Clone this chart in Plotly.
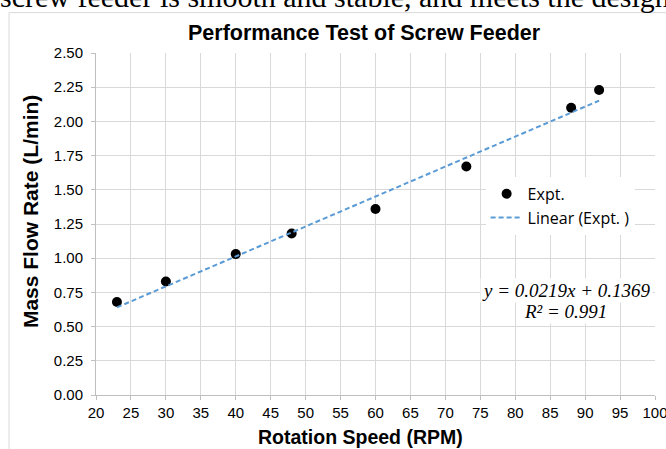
import plotly.graph_objects as go

speed = [23, 30, 40, 48, 60, 73, 88, 92]
flow = [0.68, 0.83, 1.03, 1.18, 1.36, 1.67, 2.10, 2.23]
slope, intercept = 0.0219, 0.1369
fit_x = [min(speed), max(speed)]
fit_y = [slope * v + intercept for v in fit_x]
x_ticks = list(range(20, 101, 5))
y_ticks = [i * 0.25 for i in range(11)]

SANS = "Liberation Sans, Arial"
SERIF = "Liberation Serif, Times New Roman"

fig = go.Figure()
fig.add_trace(go.Scatter(x=speed, y=flow, mode="markers", name="Expt.",
                         marker=dict(color="black", size=10)))
fig.add_trace(go.Scatter(x=fit_x, y=fit_y, mode="lines", name="Linear (Expt. )",
                         line=dict(color="#5B9BD5", width=2, dash="5px,3px")))

axis_common = dict(showgrid=True, gridcolor="#d9d9d9", gridwidth=1,
                   showline=True, linecolor="#bfbfbf", linewidth=1,
                   ticks="outside", ticklen=4, tickcolor="#bfbfbf",
                   zeroline=False, automargin=False,
                   tickfont=dict(family=SANS, size=15, color="black"))

fig.update_layout(
    width=666, height=449,
    margin=dict(l=96, r=11, t=53, b=54),
    paper_bgcolor="white", plot_bgcolor="white",
    xaxis=dict(range=[20, 100], tickvals=x_ticks, ticktext=[str(v) for v in x_ticks],
               ticklabeloverflow="allow", **axis_common),
    yaxis=dict(range=[0, 2.5], tickvals=y_ticks, ticktext=[f"{v:.2f}" for v in y_ticks],
               ticklabelstandoff=5, **axis_common),
    legend=dict(x=0.697, y=0.638, xanchor="left", yanchor="top",
                bgcolor="white", borderwidth=0,
                font=dict(family="Open Sans, Liberation Sans", size=16, color="black"),
                tracegroupgap=0, itemwidth=32),
    showlegend=True,
)

# Chart frame (extends beyond the cropped image)
fig.add_shape(type="rect", xref="paper", yref="paper",
              x0=-0.1556, x1=1.2, y0=-0.35, y1=1.118,
              line=dict(color="#d9d9d9", width=1), fillcolor="rgba(0,0,0,0)", layer="below")

def note(text, x, y, font, **kw):
    fig.add_annotation(xref="paper", yref="paper", x=x, y=y, showarrow=False,
                       text=text, font=font, **kw)

note("<b>Performance Test of Screw Feeder</b>", 0.481, 1.0585,
     dict(family=SANS, size=21.5, color="black"), xanchor="center", yanchor="middle")
note("<b>Rotation Speed (RPM)</b>", 0.474, -0.1228,
     dict(family=SANS, size=19.5, color="black"), xanchor="center", yanchor="middle")
note("<b>Mass Flow Rate (L/min)</b>", -0.118, 0.535,
     dict(family=SANS, size=21, color="black"), xanchor="center", yanchor="middle",
     textangle=-90)
note("<i>y = 0.0219x + 0.1369</i>", 0.841, 0.307,
     dict(family=SERIF, size=19, color="black"), xanchor="center", yanchor="middle",
     bgcolor="white")
note("<i>R² = 0.991</i>", 0.839, 0.2456,
     dict(family=SERIF, size=19, color="black"), xanchor="center", yanchor="middle",
     bgcolor="white")

# Cropped text from the page above the chart
note("screw feeder is smooth and stable, and meets the design", -0.175, 1.111,
     dict(family=SERIF, size=30, color="black"), xanchor="left", yanchor="bottom")

fig.write_html("out.html", config={"displayModeBar": False},
               post_script="document.body.style.margin='0';document.body.style.overflow='hidden';")
